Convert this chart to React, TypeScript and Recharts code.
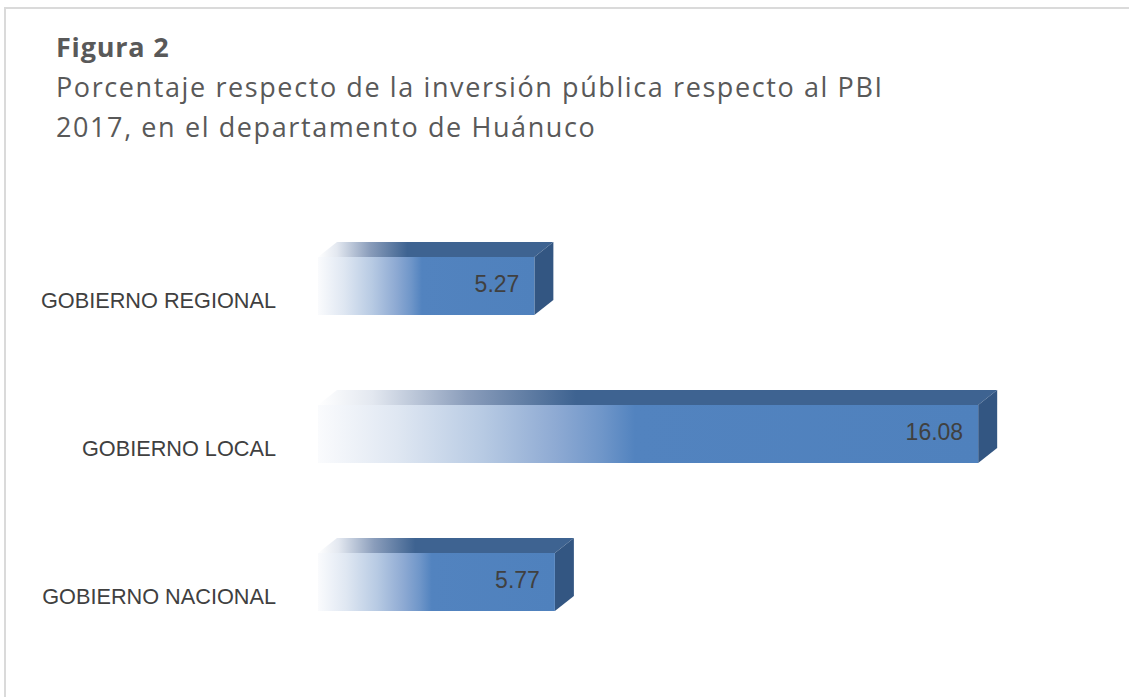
import React from "react";
import { BarChart, Bar, XAxis, YAxis, LabelList } from "recharts";

const categories = ["GOBIERNO REGIONAL", "GOBIERNO LOCAL", "GOBIERNO NACIONAL"];
const values = [5.27, 16.08, 5.77];
const titleText = "Figura 2";
const subtitleLines = [
  "Porcentaje respecto de la inversión pública respecto al PBI",
  "2017, en el departamento de Huánuco",
];

const data = categories.map((name, i) => ({ name, value: values[i] }));

const DX = 19;
const DY = 15;

function Bar3D(props: any) {
  const { x, y, width, height } = props;
  if (width == null || width <= 0) return null;
  const top = `${x},${y} ${x + DX},${y - DY} ${x + width + DX},${y - DY} ${x + width},${y}`;
  const side = `${x + width},${y} ${x + width + DX},${y - DY} ${x + width + DX},${y + height - DY} ${x + width},${y + height}`;
  return (
    <g>
      <polygon points={top} fill="url(#topGrad)" />
      <polygon points={side} fill="#335682" />
      <rect x={x} y={y} width={width} height={height} fill="url(#frontGrad)" />
    </g>
  );
}

function ValueLabel(props: any) {
  const { x, y, width, height, value } = props;
  return (
    <text
      x={x + width - 15}
      y={y + height / 2 - 2}
      textAnchor="end"
      dominantBaseline="central"
      fontFamily="'Liberation Sans', Arial, sans-serif"
      fontSize={23}
      fill="#404040"
    >
      {value}
    </text>
  );
}

function CatTick(props: any) {
  const { x, y, payload } = props;
  return (
    <text
      x={x - 34}
      y={y + 14}
      textAnchor="end"
      dominantBaseline="central"
      fontFamily="'Liberation Sans', Arial, sans-serif"
      fontSize={21.7}
      fill="#404040"
    >
      {payload.value}
    </text>
  );
}

export default function App() {
  return (
    <div style={{ position: "fixed", left: 0, top: 0, width: 1129, height: 697, background: "#fff", overflow: "hidden" }}>
      <div
        style={{
          position: "absolute",
          left: 4,
          top: 7,
          width: 1200,
          height: 800,
          borderTop: "2px solid #dadada",
          borderLeft: "2px solid #dadada",
        }}
      />
      <div
        style={{
          position: "absolute",
          left: 56,
          top: 27,
          fontFamily: "'Open Sans', sans-serif",
          fontSize: 27,
          lineHeight: "40px",
          color: "#595959",
          whiteSpace: "nowrap",
        }}
      >
        <div style={{ fontWeight: 700, letterSpacing: 0.8 }}>{titleText}</div>
        <div style={{ letterSpacing: 1.6 }}>{subtitleLines[0]}</div>
        <div style={{ letterSpacing: 1.6 }}>{subtitleLines[1]}</div>
      </div>
      <div style={{ position: "absolute", left: 0, top: 0 }}>
        <BarChart
          width={1129}
          height={697}
          data={data}
          layout="vertical"
          margin={{ top: 212, bottom: 41, left: 0, right: 72 }}
          barCategoryGap={0}
        >
          <defs>
            <linearGradient id="frontGrad" x1="0" y1="0" x2="1" y2="0">
              <stop offset="0" stopColor="#fafbfd" />
              <stop offset="0.12" stopColor="#dfe7f2" />
              <stop offset="0.25" stopColor="#b7cae3" />
              <stop offset="0.36" stopColor="#8eaad3" />
              <stop offset="0.43" stopColor="#6f96c9" />
              <stop offset="0.48" stopColor="#5283bf" />
              <stop offset="1" stopColor="#4f81bd" />
            </linearGradient>
            <linearGradient id="topGrad" x1="0" y1="0" x2="1" y2="0">
              <stop offset="0" stopColor="#ffffff" />
              <stop offset="0.08" stopColor="#e3e8f0" />
              <stop offset="0.22" stopColor="#8a9dbb" />
              <stop offset="0.38" stopColor="#3e6391" />
              <stop offset="1" stopColor="#3e6391" />
            </linearGradient>
          </defs>
          <XAxis type="number" domain={[0, 18]} hide />
          <YAxis
            type="category"
            dataKey="name"
            width={318}
            axisLine={false}
            tickLine={false}
            tick={<CatTick />}
          />
          <Bar dataKey="value" barSize={58} shape={<Bar3D />} isAnimationActive={false}>
            <LabelList dataKey="value" content={<ValueLabel />} />
          </Bar>
        </BarChart>
      </div>
    </div>
  );
}
